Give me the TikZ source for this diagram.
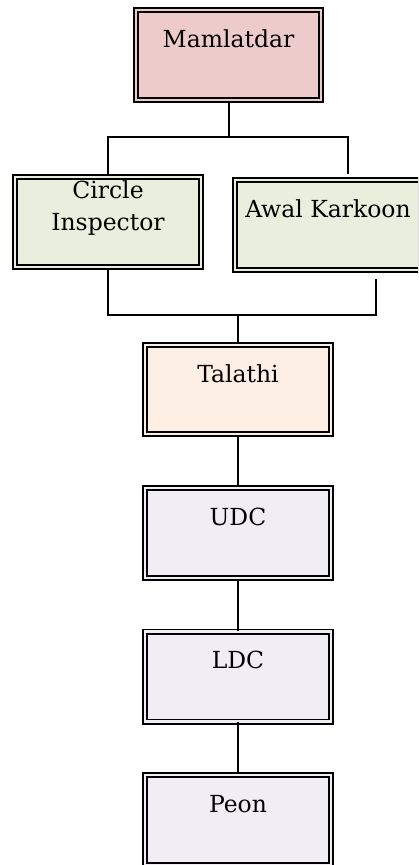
\documentclass[tikz,border=0pt]{standalone}
\usepackage{fontspec}
\setmainfont{DejaVu Serif}
\definecolor{cMam}{HTML}{EECBCB}
\definecolor{cGreen}{HTML}{EAEEDD}
\definecolor{cTal}{HTML}{FDEFE4}
\definecolor{cGrey}{HTML}{F0EEF4}
\tikzset{
  box/.style={rectangle, draw=black, line width=1.7pt, double=#1, double distance=2.6pt,
    fill=#1, inner sep=0pt, minimum width=186pt, align=center,
    text height=37pt, text depth=53pt,
    font=\fontsize{23.5}{32}\selectfont},
  conn/.style={line width=1.4pt, draw=black},
}
\begin{document}
\begin{tikzpicture}[x=1pt,y=-1pt]
\useasboundingbox (0,0) rectangle (418,865);
\clip (0,0) rectangle (418,865);
\node[box=cMam, minimum width=185pt] (mam) at (228.5,55) {Mamlatdar};
\node[box=cGreen, text height=53pt, text depth=37pt] (ci) at (108,222) {Circle\\Inspector};
\node[box=cGreen] (ak) at (328,225) {Awal Karkoon};
\node[box=cTal, text height=37pt, text depth=52pt] (tal) at (238,389.5) {Talathi};
\node[box=cGrey] (udc) at (238,533) {UDC};
\node[box=cGrey] (ldc) at (238,676.5) {LDC};
\node[box=cGrey] (peon) at (238,820) {Peon};
\coordinate (j1) at (228.5,137);
\coordinate (j1l) at (108,137);
\coordinate (j1r) at (348,137);
\coordinate (akt) at (348,174);
\coordinate (j2) at (238,315);
\coordinate (j2l) at (108,315);
\coordinate (j2r) at (376,315);
\coordinate (akb) at (376,279);
\draw[conn, line width=2pt] (mam.south) -- (j1);
\draw[conn] (ci.north) -- (j1l) -- (j1r) -- (akt);
\draw[conn] (ci.south) -- (j2l) -- (j2r) -- (akb);
\draw[conn] (j2) -- (tal.north);
\draw[conn] (tal.south) -- (udc.north);
\draw[conn] (udc.south) -- (ldc.north);
\draw[conn] (ldc.south) -- (peon.north);
\end{tikzpicture}
\end{document}
